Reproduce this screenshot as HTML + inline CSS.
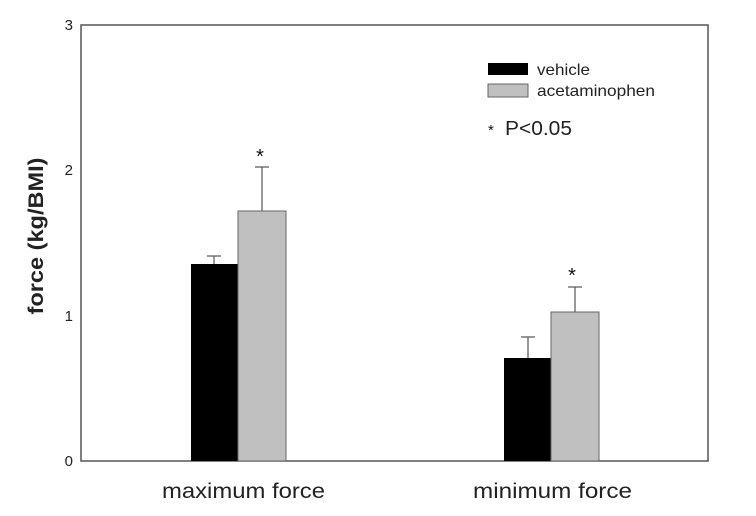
<!DOCTYPE html>
<html><head><style>body{margin:0;background:#fff}</style></head><body>
<svg width="756" height="511" xmlns="http://www.w3.org/2000/svg" font-family="Liberation Sans, sans-serif">
<rect width="756" height="511" fill="#fff"/>
<rect x="81" y="25" width="627" height="436" fill="none" stroke="#555" stroke-width="1.5"/>
<g fill="#222" font-size="15" text-anchor="end">
<text x="73" y="466">0</text><text x="73" y="321">1</text><text x="73" y="175">2</text><text x="73" y="30">3</text>
</g>
<text transform="translate(43,236) rotate(-90)" font-size="21" font-weight="bold" text-anchor="middle" fill="#222" textLength="157" lengthAdjust="spacingAndGlyphs">force (kg/BMI)</text>
<g stroke="#555" stroke-width="1.2">
<line x1="214" y1="264" x2="214" y2="256"/><line x1="207" y1="256" x2="221" y2="256"/>
<line x1="262" y1="211" x2="262" y2="167"/><line x1="255" y1="167" x2="269" y2="167"/>
<line x1="528" y1="358" x2="528" y2="337"/><line x1="521" y1="337" x2="535" y2="337"/>
<line x1="575" y1="312" x2="575" y2="287"/><line x1="568" y1="287" x2="582" y2="287"/>
</g>
<rect x="191" y="264" width="47" height="197" fill="#000"/>
<rect x="238" y="211" width="48" height="250" fill="#c0c0c0" stroke="#666"/>
<rect x="504" y="358" width="47" height="103" fill="#000"/>
<rect x="551" y="312" width="48" height="149" fill="#c0c0c0" stroke="#666"/>
<g font-size="20" text-anchor="middle" fill="#111"><text x="260" y="163">*</text><text x="572" y="282">*</text></g>
<rect x="488" y="63" width="40" height="12" fill="#000"/>
<rect x="488" y="84" width="40" height="13" fill="#c0c0c0" stroke="#666"/>
<g font-size="16" fill="#222"><text x="537" y="75" textLength="53" lengthAdjust="spacingAndGlyphs">vehicle</text><text x="537" y="96" textLength="118" lengthAdjust="spacingAndGlyphs">acetaminophen</text></g>
<text x="488" y="135" font-size="15" fill="#111">*</text>
<text x="505" y="135" font-size="20" fill="#222" textLength="67" lengthAdjust="spacingAndGlyphs">P&lt;0.05</text>
<g font-size="21" fill="#222"><text x="162" y="498" textLength="163" lengthAdjust="spacingAndGlyphs">maximum force</text><text x="473" y="498" textLength="159" lengthAdjust="spacingAndGlyphs">minimum force</text></g>
</svg>
</body></html>
